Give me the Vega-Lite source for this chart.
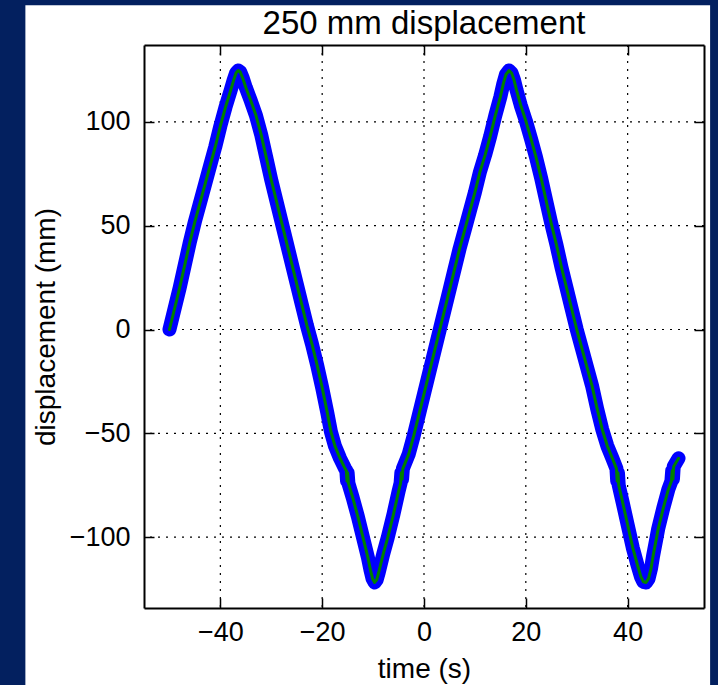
{
  "$schema": "https://vega.github.io/schema/vega-lite/v6.json",
  "width": 560,
  "height": 563,
  "autosize": {"type": "none"},
  "padding": {"left": 144, "top": 45, "right": 14, "bottom": 77},
  "background": "#03205f",
  "title": {"text": "250 mm displacement", "font": "Liberation Sans", "fontSize": 33, "fontWeight": "normal", "color": "black", "anchor": "middle", "frame": "group", "baseline": "alphabetic", "offset": -28, "dy": 34},
  "config": {
    "view": {"stroke": null},
    "axis": {"labelFont": "Liberation Sans", "titleFont": "Liberation Sans", "labelFontSize": 27, "titleFontSize": 28, "titleFontWeight": "normal", "labelColor": "black", "titleColor": "black", "domainColor": "black", "domainWidth": 2, "tickColor": "black", "tickWidth": 1.5, "tickSize": -10, "grid": false, "labelFlush": false, "labelOverlap": false}
  },
  "datasets": {
    "curve": [
      {"t": -50, "v": 0}, {"t": -49, "v": 10}, {"t": -48, "v": 20}, {"t": -47, "v": 31}, {"t": -46, "v": 42}, {"t": -45, "v": 52}, {"t": -44, "v": 61}, {"t": -43, "v": 70}, {"t": -42, "v": 79}, {"t": -41, "v": 88}, {"t": -40, "v": 98}, {"t": -39, "v": 107}, {"t": -38, "v": 115}, {"t": -37.4, "v": 120}, {"t": -36.9, "v": 123.6}, {"t": -36.5, "v": 124.7}, {"t": -36.1, "v": 124}, {"t": -35.6, "v": 121}, {"t": -35, "v": 116.5}, {"t": -34, "v": 110}, {"t": -33, "v": 103}, {"t": -32, "v": 94}, {"t": -31, "v": 83}, {"t": -30, "v": 72}, {"t": -29, "v": 62}, {"t": -28, "v": 52}, {"t": -27, "v": 42}, {"t": -26, "v": 32}, {"t": -25, "v": 22}, {"t": -24, "v": 12}, {"t": -23, "v": 2}, {"t": -22, "v": -7}, {"t": -21, "v": -17}, {"t": -20, "v": -28}, {"t": -19, "v": -40}, {"t": -18.3, "v": -49}, {"t": -17.5, "v": -56}, {"t": -16.5, "v": -62}, {"t": -15.5, "v": -67}, {"t": -15.25, "v": -68}, {"t": -15.12, "v": -73}, {"t": -15.0, "v": -69}, {"t": -14.85, "v": -74}, {"t": -14, "v": -81}, {"t": -13, "v": -90}, {"t": -12, "v": -100}, {"t": -11, "v": -110}, {"t": -10.5, "v": -116}, {"t": -10.1, "v": -120}, {"t": -9.7, "v": -121.8}, {"t": -9.3, "v": -120.5}, {"t": -8.9, "v": -117}, {"t": -8, "v": -108}, {"t": -7.1, "v": -100}, {"t": -6, "v": -89}, {"t": -5, "v": -78}, {"t": -4.6, "v": -74}, {"t": -4.45, "v": -69}, {"t": -4.3, "v": -72}, {"t": -4.15, "v": -67}, {"t": -3, "v": -60}, {"t": -2, "v": -51}, {"t": -1, "v": -41}, {"t": 0, "v": -31}, {"t": 1, "v": -21}, {"t": 2, "v": -11}, {"t": 3, "v": -1}, {"t": 4, "v": 9}, {"t": 5, "v": 19}, {"t": 6, "v": 29}, {"t": 7, "v": 39}, {"t": 8, "v": 48}, {"t": 9, "v": 57}, {"t": 10, "v": 66}, {"t": 11, "v": 76}, {"t": 12, "v": 84}, {"t": 13, "v": 93}, {"t": 14, "v": 103}, {"t": 15, "v": 112}, {"t": 15.6, "v": 118.5}, {"t": 16.1, "v": 122.8}, {"t": 16.7, "v": 124.7}, {"t": 17.2, "v": 123.5}, {"t": 17.7, "v": 120}, {"t": 18.2, "v": 115}, {"t": 19, "v": 108}, {"t": 20, "v": 100.5}, {"t": 21, "v": 92}, {"t": 22, "v": 83}, {"t": 23, "v": 73}, {"t": 24, "v": 62}, {"t": 25, "v": 51}, {"t": 26, "v": 41}, {"t": 27, "v": 30}, {"t": 28, "v": 20}, {"t": 29, "v": 10}, {"t": 30, "v": 0}, {"t": 31, "v": -9}, {"t": 32, "v": -18}, {"t": 33, "v": -27}, {"t": 34, "v": -38}, {"t": 35, "v": -48}, {"t": 36, "v": -56}, {"t": 37, "v": -62}, {"t": 37.8, "v": -67}, {"t": 37.95, "v": -73}, {"t": 38.1, "v": -69}, {"t": 38.25, "v": -75}, {"t": 39, "v": -83}, {"t": 40, "v": -94}, {"t": 41, "v": -105}, {"t": 42, "v": -114}, {"t": 42.6, "v": -119}, {"t": 43.1, "v": -121.5}, {"t": 43.6, "v": -121.8}, {"t": 44.1, "v": -120}, {"t": 44.6, "v": -115}, {"t": 45, "v": -109}, {"t": 45.7, "v": -100}, {"t": 46, "v": -96}, {"t": 47, "v": -86}, {"t": 48, "v": -77}, {"t": 48.6, "v": -73}, {"t": 48.75, "v": -68}, {"t": 48.9, "v": -72}, {"t": 49.05, "v": -66}, {"t": 50, "v": -62}
    ],
    "xgrid": [{"t": -40}, {"t": -20}, {"t": 0}, {"t": 20}, {"t": 40}],
    "ygrid": [{"v": -100}, {"v": -50}, {"v": 0}, {"v": 50}, {"v": 100}]
  },
  "resolve": {"axis": {"x": "independent", "y": "independent"}},
  "layer": [
    {
      "data": {"values": [{}]},
      "mark": {"type": "rect", "color": "white", "clip": false},
      "encoding": {
        "x": {"datum": -78.3, "type": "quantitative", "scale": {"domain": [-55, 55], "nice": false, "zero": false}, "axis": null},
        "x2": {"datum": 56.2},
        "y": {"datum": 156.2, "type": "quantitative", "scale": {"domain": [-134.1, 137.0], "nice": false, "zero": false}, "axis": null},
        "y2": {"datum": -190}
      }
    },
    {
      "data": {"name": "xgrid"},
      "mark": {"type": "rule", "color": "black", "strokeWidth": 1.2, "strokeDash": [2, 6]},
      "encoding": {
        "x": {"field": "t", "type": "quantitative", "scale": {"domain": [-55, 55], "nice": false, "zero": false}, "axis": {"orient": "top", "values": [-40, -20, 0, 20, 40], "labels": false, "title": null, "zindex": 2}}
      }
    },
    {
      "data": {"name": "ygrid"},
      "mark": {"type": "rule", "color": "black", "strokeWidth": 1.2, "strokeDash": [2, 6]},
      "encoding": {
        "y": {"field": "v", "type": "quantitative", "scale": {"domain": [-134.1, 137.0], "nice": false, "zero": false}, "axis": {"orient": "right", "values": [-100, -50, 0, 50, 100], "labels": false, "title": null, "zindex": 2}}
      }
    },
    {
      "data": {"name": "curve"},
      "mark": {"type": "line", "color": "#0000ff", "strokeWidth": 14, "strokeCap": "round", "strokeJoin": "round", "clip": false},
      "encoding": {
        "x": {"field": "t", "type": "quantitative", "scale": {"domain": [-55, 55], "nice": false, "zero": false}, "axis": {"orient": "bottom", "values": [-40, -20, 0, 20, 40], "title": "time (s)", "labelPadding": 21, "titlePadding": 10, "zindex": 2}},
        "y": {"field": "v", "type": "quantitative", "scale": {"domain": [-134.1, 137.0], "nice": false, "zero": false}, "axis": {"orient": "left", "values": [-100, -50, 0, 50, 100], "title": "displacement (mm)", "labelPadding": 24, "titlePadding": 9, "zindex": 2}}
      }
    },
    {
      "data": {"name": "curve"},
      "mark": {"type": "line", "color": "#008000", "strokeWidth": 3, "strokeCap": "round", "strokeJoin": "round", "clip": false},
      "encoding": {
        "x": {"field": "t", "type": "quantitative", "scale": {"domain": [-55, 55], "nice": false, "zero": false}, "axis": null},
        "y": {"field": "v", "type": "quantitative", "scale": {"domain": [-134.1, 137.0], "nice": false, "zero": false}, "axis": null}
      }
    }
  ]
}
